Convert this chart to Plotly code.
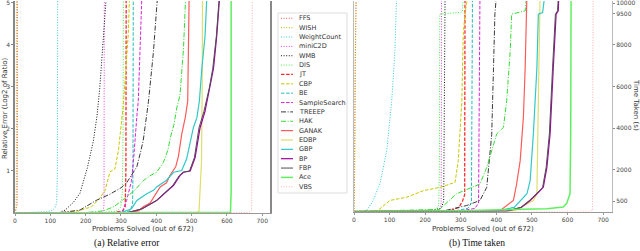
import plotly.graph_objects as go

solvers = ["FFS", "WISH", "WeightCount", "miniC2D", "WMB", "DIS", "JT", "CBP", "BE",
           "SampleSearch", "TREEEP", "HAK", "GANAK", "EDBP", "GBP", "BP", "FBP", "Ace", "VBS"]

# ---------- (a) relative error: problems solved (n) vs log2 error (v) ----------
FFS_err_n = [0, 6, 7, 7]
FFS_err_v = [0, 0.2, 1.5, 6]
WISH_err_n = [0, 3, 4, 4]
WISH_err_v = [0, 0.1, 1.0, 6]
WeightCount_err_n = [0, 60, 90, 105, 113, 118, 120, 121]
WeightCount_err_v = [0, 0.01, 0.03, 0.06, 0.12, 0.25, 1.0, 6]
miniC2D_err_n = [0, 240, 250, 252, 253]
miniC2D_err_v = [0, 0.01, 0.05, 0.2, 6]
WMB_err_n = [0, 125, 142, 165, 184, 205, 222, 232, 240, 248, 258]
WMB_err_v = [0, 0.01, 0.07, 0.25, 0.47, 1.08, 1.72, 2.3, 2.97, 4.0, 5.1]
DIS_err_n = [0, 250, 290, 300, 304, 306, 307]
DIS_err_v = [0, 0.01, 0.05, 0.15, 0.5, 2.0, 6]
JT_err_n = [0, 280, 305, 312, 314, 315]
JT_err_v = [0, 0.01, 0.05, 0.15, 1.0, 6]
CBP_err_n = [0, 140, 180, 217, 240, 255, 269, 283, 293, 300, 307, 312, 317, 321, 324]
CBP_err_v = [0, 0.01, 0.05, 0.15, 0.35, 0.54, 0.98, 1.05, 1.5, 2.0, 2.6, 3.2, 3.8, 4.3, 5.1]
BE_err_n = [0, 300, 325, 333, 334, 335]
BE_err_v = [0, 0.01, 0.05, 0.2, 1.0, 6]
SampleSearch_err_n = [0, 290, 305, 316, 322, 330, 336, 340, 345, 349, 355, 359]
SampleSearch_err_v = [0, 0.01, 0.05, 0.3, 0.5, 0.77, 1.3, 1.87, 2.3, 2.66, 4.2, 5.1]
TREEEP_err_n = [0, 130, 184, 230, 269, 300, 316, 330, 345, 354, 363, 378, 392, 403]
TREEEP_err_v = [0, 0.01, 0.07, 0.3, 0.45, 0.6, 0.72, 0.9, 1.1, 1.4, 1.72, 2.66, 3.84, 5.1]
HAK_err_n = [0, 200, 250, 280, 316, 340, 363, 385, 401, 420, 433, 440, 450, 458, 467, 472, 477, 483]
HAK_err_v = [0, 0.01, 0.05, 0.15, 0.38, 0.55, 0.77, 0.9, 0.97, 1.2, 1.5, 1.8, 2.1, 2.5, 2.8, 3.4, 3.9, 5.1]
GANAK_err_n = [0, 320, 350, 363, 382, 401, 411, 429, 439, 455, 463, 472, 482, 489, 491, 493]
GANAK_err_v = [0, 0.01, 0.05, 0.15, 0.23, 0.47, 0.62, 0.72, 0.9, 1.1, 1.36, 1.87, 2.27, 2.66, 3.5, 5.1]
EDBP_err_n = [0, 515, 521, 524, 528, 530, 531]
EDBP_err_v = [0, 0.01, 0.05, 0.5, 1.2, 3.0, 5.1]
GBP_err_n = [0, 300, 330, 345, 373, 392, 401, 429, 449, 472, 486, 496, 505, 515, 522, 529, 538, 543]
GBP_err_v = [0, 0.01, 0.1, 0.3, 0.46, 0.54, 0.62, 0.78, 0.97, 1.01, 1.29, 1.64, 2.03, 2.27, 2.66, 3.44, 4.2, 5.1]
BP_err_n = [0, 320, 360, 401, 449, 467, 477, 496, 510, 524, 538, 552, 562, 571, 579]
BP_err_v = [0, 0.01, 0.1, 0.3, 0.66, 0.89, 0.97, 1.0, 1.32, 2.03, 2.42, 2.97, 3.44, 4.2, 5.1]
FBP_err_n = [0, 320, 360, 401, 447, 465, 475, 494, 508, 521, 535, 550, 560, 570, 578]
FBP_err_v = [0, 0.01, 0.1, 0.3, 0.66, 0.89, 0.97, 1.0, 1.32, 2.03, 2.42, 2.97, 3.44, 4.2, 5.1]
Ace_err_n = [0, 600, 610, 612, 612]
Ace_err_v = [0, 0.005, 0.02, 0.5, 6]
VBS_err_n = [0, 660, 670, 672]
VBS_err_v = [0, 0.01, 0.05, 6]

# ---------- (b) time taken: problems solved (n) vs seconds (t) ----------
FFS_time_n = [0, 1, 2, 3, 4, 6]
FFS_time_t = [0, 500, 2000, 6900, 8500, 10500]
WISH_time_n = [0, 4, 5, 6]
WISH_time_t = [0, 9500, 10000, 10500]
WeightCount_time_n = [0, 36, 54, 73, 92, 106, 115, 120]
WeightCount_time_t = [0, 50, 530, 1340, 2920, 5310, 7700, 10500]
miniC2D_time_n = [0, 200, 240, 245, 246]
miniC2D_time_t = [0, 20, 100, 400, 10500]
WMB_time_n = [0, 200, 245, 252, 256]
WMB_time_t = [0, 20, 150, 500, 10500]
DIS_time_n = [0, 150, 230, 238, 240, 241, 300, 305, 307]
DIS_time_t = [0, 20, 100, 300, 2000, 9470, 9550, 9600, 10500]
JT_time_n = [0, 270, 295, 305, 311, 312]
JT_time_t = [0, 30, 200, 500, 800, 10500]
CBP_time_n = [0, 65, 101, 148, 195, 242, 284, 293, 303, 307, 312, 321]
CBP_time_t = [0, 20, 530, 685, 1000, 1160, 1400, 2440, 5300, 8500, 9500, 10500]
BE_time_n = [0, 280, 320, 330, 333]
BE_time_t = [0, 20, 150, 400, 10500]
SampleSearch_time_n = [0, 300, 340, 350, 354]
SampleSearch_time_t = [0, 30, 150, 400, 10500]
TREEEP_time_n = [0, 250, 317, 354, 373, 387, 392, 396, 401]
TREEEP_time_t = [0, 20, 290, 530, 1160, 3700, 6900, 9500, 10500]
HAK_time_n = [0, 240, 288, 335, 354, 373, 401, 420, 429, 439, 443, 481, 486]
HAK_time_t = [0, 100, 850, 1160, 1320, 2120, 3720, 4040, 5310, 7700, 9470, 9630, 10500]
GANAK_time_n = [0, 380, 411, 448, 457, 467, 476, 481, 486]
GANAK_time_t = [0, 20, 50, 530, 1320, 2440, 4520, 6900, 10500]
EDBP_time_n = [0, 450, 504, 514, 518, 523]
EDBP_time_t = [0, 30, 530, 850, 5310, 10500]
GBP_time_n = [0, 400, 450, 486, 495, 504, 514, 518, 530, 537]
GBP_time_t = [0, 20, 200, 850, 1480, 3720, 6900, 9470, 9550, 10500]
BP_time_n = [0, 430, 470, 495, 514, 532, 542, 551, 560, 568, 574, 576]
BP_time_t = [0, 20, 200, 530, 850, 1160, 2120, 3720, 6900, 9470, 9630, 10500]
FBP_time_n = [0, 430, 470, 493, 512, 530, 540, 549, 558, 566, 572, 575]
FBP_time_t = [0, 20, 200, 530, 850, 1160, 2120, 3720, 6900, 9470, 9630, 10500]
Ace_time_n = [0, 300, 542, 588, 598, 607, 609, 610]
Ace_time_t = [0, 40, 130, 210, 400, 850, 3720, 10500]
VBS_time_n = [0, 660, 670, 672]
VBS_time_t = [0, 10, 50, 10500]

x_ticks = [0, 100, 200, 300, 400, 500, 600, 700]
err_ticks = [1, 2, 3, 4, 5]
time_ticks = [500, 2000, 4000, 6000, 8000, 9500, 10000]
time_tick_labels = ["500", "2000", "4000", "6000", "8000", "9500", "10000"]

g = globals()
err_data = {s: (g[s + "_err_n"], g[s + "_err_v"]) for s in solvers}
time_data = {s: (g[s + "_time_n"], g[s + "_time_t"]) for s in solvers}

DOT = "1px,1.6px"
DASH = "3.5px,1.6px"
DASHDOT = "5px,1.6px,1px,1.6px"
styles = {
    "FFS": ("rgba(255,40,40,0.8)", DOT, 1.0),
    "WISH": ("#b5b500", DOT, 1.0),
    "WeightCount": ("#33cccc", DOT, 1.0),
    "miniC2D": ("#e040e0", DOT, 1.0),
    "WMB": ("#111111", DOT, 1.0),
    "DIS": ("#44ee44", DOT, 1.0),
    "JT": ("#ff2a2a", DASH, 1.3),
    "CBP": ("#c8c800", DASH, 1.0),
    "BE": ("#22bbbb", DASH, 1.0),
    "SampleSearch": ("#dd22dd", DASH, 1.0),
    "TREEEP": ("#3a3a3a", DASHDOT, 1.0),
    "HAK": ("#33dd33", DASHDOT, 1.0),
    "GANAK": ("#ff5a5a", "solid", 1.2),
    "EDBP": ("#dede6a", "solid", 1.2),
    "GBP": ("#30c8c8", "solid", 1.2),
    "BP": ("#a000a0", "solid", 1.2),
    "FBP": ("#505050", "solid", 1.0),
    "Ace": ("#5ef05e", "solid", 1.5),
    "VBS": ("#ffaaaa", DOT, 1.0),
}

W, H = 640, 251
def px(x):
    return x / W
def py(y):
    return 1 - y / H

fig = go.Figure()
for s in solvers:
    c, d, w = styles[s]
    n, v = err_data[s]
    fig.add_trace(go.Scatter(x=n, y=v, mode="lines", name=s, showlegend=False,
                             line=dict(color=c, dash=d, width=w), xaxis="x", yaxis="y"))
    n, t = time_data[s]
    fig.add_trace(go.Scatter(x=n, y=t, mode="lines", name=s, showlegend=False,
                             line=dict(color=c, dash=d, width=w), xaxis="x2", yaxis="y2"))

tickfont = dict(family="DejaVu Sans", size=6, color="#444")
common = dict(automargin=False, showgrid=False, zeroline=False, showline=True,
              ticks="outside", ticklen=2, tickfont=tickfont, ticklabeloverflow="allow")
fig.update_layout(
    width=W, height=H, margin=dict(l=0, r=0, t=0, b=0, autoexpand=False),
    plot_bgcolor="white", paper_bgcolor="white",
    xaxis=dict(domain=[px(15), px(270)], range=[0, 722], tickvals=x_ticks,
               linecolor="#999", linewidth=1, tickcolor="#999", anchor="y", **common),
    yaxis=dict(domain=[py(213), py(1)], range=[0, 5.047], tickvals=err_ticks,
               linecolor="#888", linewidth=1.5, mirror=True, tickcolor="#888", anchor="x", **common),
    xaxis2=dict(domain=[px(354), px(612)], range=[0, 725], tickvals=x_ticks,
                linecolor="#999", linewidth=1, tickcolor="#999", anchor="y2", **common),
    yaxis2=dict(domain=[py(211.5), py(1)], range=[0, 10100], tickvals=time_ticks,
                ticktext=time_tick_labels, side="right",
                linecolor="#bbb", linewidth=1, mirror=True, tickcolor="#888", anchor="x2", **common),
)

ann_font = dict(family="DejaVu Sans", size=7, color="#333")
anns = [
    dict(x=px(142.5), y=py(229), text="Problems Solved (out of 672)", font=ann_font),
    dict(x=px(483), y=py(229), text="Problems Solved (out of 672)", font=ann_font),
    dict(x=px(5), y=py(108), text="Relative Error (Log2 of Ratio)", font=ann_font, textangle=-90),
    dict(x=px(636), y=py(105), text="Time Taken (s)", font=ann_font, textangle=90),
    dict(x=px(127), y=py(243), text="(a) Relative error",
         font=dict(family="Liberation Serif", size=9.5, color="#111")),
    dict(x=px(477), y=py(243), text="(b) Time taken",
         font=dict(family="Liberation Serif", size=9.5, color="#111")),
]

shapes = [dict(type="rect", xref="paper", yref="paper", x0=px(278), x1=px(347),
               y0=py(193), y1=py(13), line=dict(color="#dddddd", width=1), fillcolor="white")]
y0, dy = 18.3, 9.36
for i, s in enumerate(solvers):
    c, d, w = styles[s]
    yy = y0 + i * dy
    shapes.append(dict(type="line", xref="paper", yref="paper", x0=px(281), x1=px(293),
                       y0=py(yy), y1=py(yy), line=dict(color=c, dash=d, width=w)))
    anns.append(dict(x=px(297), y=py(yy), text=s, xanchor="left",
                     font=dict(family="DejaVu Sans", size=6.5, color="#333")))

for a in anns:
    a.setdefault("xref", "paper")
    a.setdefault("yref", "paper")
    a.setdefault("showarrow", False)
    a.setdefault("xanchor", "center")
    a.setdefault("yanchor", "middle")
fig.update_layout(annotations=anns, shapes=shapes)

fig.write_html("out.html", config={"displayModeBar": False},
               post_script="document.body.style.margin='0px';document.body.style.overflow='hidden';")
